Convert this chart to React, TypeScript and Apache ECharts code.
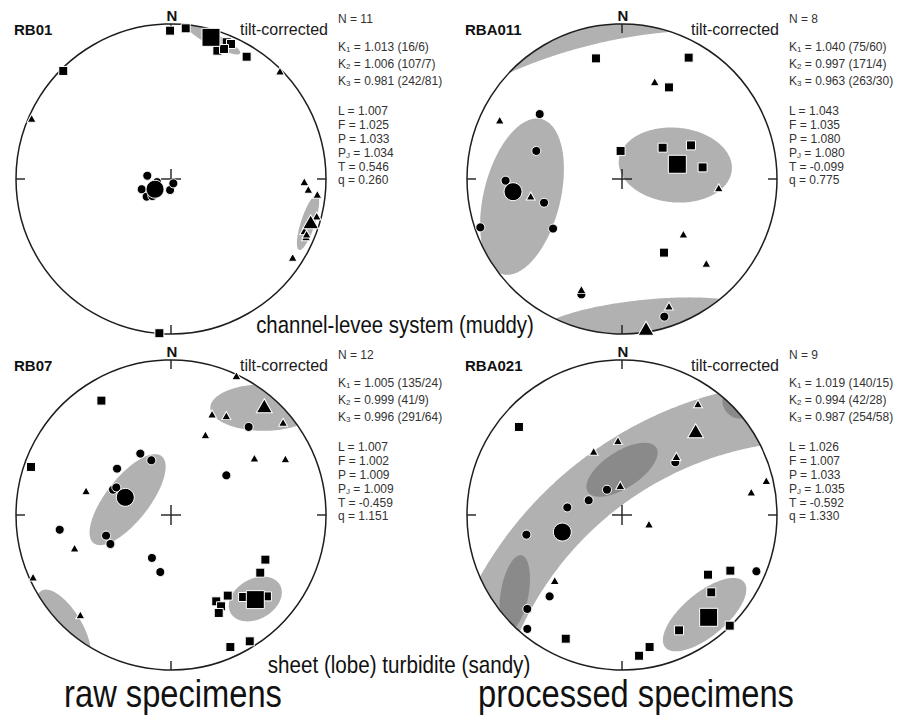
import React, { useEffect, useRef } from "react";
import * as echarts from "echarts";

// ---------- data (normalised stereonet coordinates, x = east, y = north, primitive radius = 1) ----------
const panelNames = ["RB01", "RBA011", "RB07", "RBA021"];

const rb01Squares = [[-0.006, 0.957], [0.095, 0.972], [0.359, 0.882], [0.387, 0.871], [0.299, 0.828], [0.342, 0.839], [0.488, 0.789], [-0.695, 0.697], [-0.075, -0.995]];
const rb01Triangles = [[0.703, 0.697], [-0.899, 0.392], [0.86, -0.017], [0.886, -0.066], [0.944, -0.099], [0.94, -0.239], [0.86, -0.333], [0.871, -0.372], [0.875, -0.355], [0.785, -0.505]];
const rb01Circles = [[-0.153, 0.021], [-0.189, -0.066], [-0.157, -0.114], [-0.006, -0.071], [0.015, -0.028], [-0.12, -0.11], [-0.09, -0.02]];
const rb01MeanK1 = [[0.258, 0.914]];
const rb01MeanK2 = [[0.901, -0.276]];
const rb01MeanK3 = [[-0.103, -0.066]];
const rb01Ellipses = [[0.277, 0.897, 0.19, 0.04, -27], [0.884, -0.281, 0.186, 0.045, 72]];
const rb01Bands: number[][] = [];

const rba011Squares = [[-0.168, 0.778], [0.43, 0.783], [0.303, 0.591], [-0.009, 0.181], [0.262, 0.202], [0.445, 0.217], [0.52, 0.075], [0.271, -0.475]];
const rba011Triangles = [[0.211, 0.628], [-0.789, 0.381], [-0.589, -0.11], [0.624, -0.056], [0.396, -0.355], [0.544, -0.544], [-0.262, -0.712], [0.303, -0.819]];
const rba011Circles = [[-0.531, 0.419], [-0.553, 0.181], [-0.751, -0.011], [-0.503, -0.153], [-0.914, -0.312], [-0.445, -0.32], [-0.262, -0.744], [0.273, -0.888]];
const rba011MeanK1 = [[0.357, 0.095]];
const rba011MeanK2 = [[0.155, -0.963]];
const rba011MeanK3 = [[-0.703, -0.082]];
const rba011Ellipses = [[-0.645, -0.114, 0.516, 0.247, 76], [0.344, 0.09, 0.366, 0.241, -5], [0.14, -0.92, 0.68, 0.14, 6]];
const rba011Bands = [[0.591, -2.329, 3.29, 4.6, 88, 122]];

const rb07Squares = [[-0.449, 0.738], [-0.903, 0.31], [0.609, -0.288], [0.576, -0.372], [0.366, -0.52], [0.292, -0.557], [0.323, -0.589], [0.308, -0.632], [0.465, -0.529], [0.619, -0.525], [0.508, -0.815], [0.383, -0.852]];
const rb07Triangles = [[0.422, 0.899], [0.265, 0.652], [0.357, 0.641], [0.723, 0.598], [0.222, 0.518], [0.538, 0.368], [0.738, 0.363], [-0.548, 0.157], [-0.622, -0.213], [-0.89, -0.4], [-0.585, -0.643]];
const rb07Circles = [[-0.198, 0.396], [-0.127, 0.353], [-0.348, 0.299], [-0.374, 0.163], [-0.353, 0.178], [-0.718, -0.095], [-0.419, -0.133], [-0.391, -0.187], [-0.123, -0.277], [-0.069, -0.368], [0.357, 0.256], [0.501, 0.568]];
const rb07MeanK1 = [[0.544, -0.546]];
const rb07MeanK2 = [[0.602, 0.705]];
const rb07MeanK3 = [[-0.295, 0.114]];
const rb07Ellipses = [[0.598, 0.693, 0.344, 0.15, 0], [-0.28, 0.099, 0.356, 0.14, 52], [-0.692, -0.729, 0.28, 0.118, -59], [0.544, -0.542, 0.183, 0.129, 30]];
const rb07Bands: number[][] = [];

const rba021Squares = [[-0.665, 0.568], [0.555, -0.385], [0.699, -0.359], [0.576, -0.499], [0.368, -0.744], [0.695, -0.714], [-0.363, -0.798], [0.178, -0.852], [0.11, -0.908]];
const rba021Triangles = [[0.49, 0.718], [-0.026, 0.48], [-0.183, 0.411], [0.351, 0.378], [-0.011, 0.191], [0.931, 0.222], [0.834, 0.148], [0.174, -0.058], [-0.434, -0.422]];
const rba021Circles = [[0.344, 0.34], [-0.097, 0.163], [-0.215, 0.095], [-0.353, 0.049], [-0.617, -0.127], [-0.467, -0.525], [-0.611, -0.606], [-0.611, -0.735], [0.867, -0.363]];
const rba021MeanK1 = [[0.559, -0.66]];
const rba021MeanK2 = [[0.475, 0.544]];
const rba021MeanK3 = [[-0.385, -0.11]];
const rba021Ellipses = [[0, 0.292, 0.263, 0.118, 33], [-0.692, -0.503, 0.247, 0.09, 80], [0.738, 0.713, 0.1, 0.08, -47], [0.533, -0.643, 0.33, 0.14, 39.7]];
const rba021Bands = [[1.252, -1.622, 2.1, 2.49, 90, 175]];

const nValues = ["11", "8", "12", "9"];
const k1Values = ["1.013 (16/6)", "1.040 (75/60)", "1.005 (135/24)", "1.019 (140/15)"];
const k2Values = ["1.006 (107/7)", "0.997 (171/4)", "0.999 (41/9)", "0.994 (42/28)"];
const k3Values = ["0.981 (242/81)", "0.963 (263/30)", "0.996 (291/64)", "0.987 (254/58)"];
const lValues = ["1.007", "1.043", "1.007", "1.026"];
const fValues = ["1.025", "1.035", "1.002", "1.007"];
const pValues = ["1.033", "1.080", "1.009", "1.033"];
const pjValues = ["1.034", "1.080", "1.009", "1.035"];
const tValues = ["0.546", "-0.099", "-0.459", "-0.592"];
const qValues = ["0.260", "0.775", "1.151", "1.330"];

const rowLabels = ["channel-levee system (muddy)", "sheet (lobe) turbidite (sandy)"];
const columnLabels = ["raw specimens", "processed specimens"];

// ---------- layout ----------
const R = 155;
const centers = [[171, 179], [622, 179], [171, 515], [622, 515]];
const SANS = "'Liberation Sans', Arial, Helvetica, sans-serif";
const REGION_FILL = "rgba(100,100,100,0.5)";

const panels = [
  { sq: rb01Squares, tr: rb01Triangles, ci: rb01Circles, m1: rb01MeanK1, m2: rb01MeanK2, m3: rb01MeanK3, el: rb01Ellipses, bd: rb01Bands },
  { sq: rba011Squares, tr: rba011Triangles, ci: rba011Circles, m1: rba011MeanK1, m2: rba011MeanK2, m3: rba011MeanK3, el: rba011Ellipses, bd: rba011Bands },
  { sq: rb07Squares, tr: rb07Triangles, ci: rb07Circles, m1: rb07MeanK1, m2: rb07MeanK2, m3: rb07MeanK3, el: rb07Ellipses, bd: rb07Bands },
  { sq: rba021Squares, tr: rba021Triangles, ci: rba021Circles, m1: rba021MeanK1, m2: rba021MeanK2, m3: rba021MeanK3, el: rba021Ellipses, bd: rba021Bands },
];

// ---------- geometry helpers ----------
function ellipsePts(cx: number, cy: number, a: number, b: number, deg: number) {
  const r = (deg * Math.PI) / 180;
  const ux = Math.cos(r), uy = Math.sin(r);
  const pts: number[][] = [];
  const N = 240;
  for (let i = 0; i < N; i++) {
    const t = (i / N) * 2 * Math.PI;
    const ca = a * Math.cos(t), sb = b * Math.sin(t);
    pts.push([cx + ca * ux - sb * uy, cy + ca * uy + sb * ux]);
  }
  return pts;
}

function bandPts(cx: number, cy: number, r0: number, r1: number, d0: number, d1: number) {
  const pts: number[][] = [];
  const N = 300;
  for (let i = 0; i <= N; i++) {
    const a = ((d0 + ((d1 - d0) * i) / N) * Math.PI) / 180;
    pts.push([cx + r1 * Math.cos(a), cy + r1 * Math.sin(a)]);
  }
  for (let i = N; i >= 0; i--) {
    const a = ((d0 + ((d1 - d0) * i) / N) * Math.PI) / 180;
    pts.push([cx + r0 * Math.cos(a), cy + r0 * Math.sin(a)]);
  }
  return pts;
}

function clipToDisk(pts: number[][]) {
  const n = pts.length;
  const inside = (p: number[]) => p[0] * p[0] + p[1] * p[1] <= 1;
  let start = -1;
  for (let i = 0; i < n; i++) if (inside(pts[i])) { start = i; break; }
  if (start < 0) return [];
  const out: number[][] = [];
  let exitAng = 0;
  for (let k = 0; k < n; k++) {
    const p = pts[(start + k) % n];
    const q = pts[(start + k + 1) % n];
    const pi = inside(p), qi = inside(q);
    if (pi) out.push(p);
    if (pi !== qi) {
      const dx = q[0] - p[0], dy = q[1] - p[1];
      const A = dx * dx + dy * dy, B = 2 * (p[0] * dx + p[1] * dy), C = p[0] * p[0] + p[1] * p[1] - 1;
      const disc = Math.sqrt(Math.max(0, B * B - 4 * A * C));
      let t = pi ? (-B + disc) / (2 * A) : (-B - disc) / (2 * A);
      t = Math.min(1, Math.max(0, t));
      const x = p[0] + t * dx, y = p[1] + t * dy;
      const ang = Math.atan2(y, x);
      if (pi) {
        out.push([x, y]);
        exitAng = ang;
      } else {
        let a1 = ang;
        while (a1 < exitAng) a1 += 2 * Math.PI;
        const steps = Math.max(2, Math.ceil((a1 - exitAng) / 0.02));
        for (let s = 1; s < steps; s++) {
          const a = exitAng + ((a1 - exitAng) * s) / steps;
          out.push([Math.cos(a), Math.sin(a)]);
        }
        out.push([x, y]);
      }
    }
  }
  return out;
}

function buildOption() {
  const grid: any[] = [];
  const xAxis: any[] = [];
  const yAxis: any[] = [];
  const series: any[] = [];
  const graphic: any[] = [];

  panels.forEach((pn, i) => {
    const [cx, cy] = centers[i];
    grid.push({ left: cx - R, top: cy - R, width: 2 * R, height: 2 * R, containLabel: false });
    xAxis.push({ type: "value", gridIndex: i, min: -1, max: 1, show: false });
    yAxis.push({ type: "value", gridIndex: i, min: -1, max: 1, show: false });
    const ax = { xAxisIndex: i, yAxisIndex: i };

    const regionItem = (pts: number[][], api: any) => {
      const clipped = clipToDisk(pts);
      if (!clipped.length) return null;
      return {
        type: "polygon",
        shape: { points: clipped.map((p) => api.coord(p)) },
        style: { fill: REGION_FILL },
      };
    };

    series.push({
      type: "custom", ...ax, silent: true, clip: false,
      data: pn.el,
      renderItem: (_p: any, api: any) =>
        regionItem(ellipsePts(api.value(0), api.value(1), api.value(2), api.value(3), api.value(4)), api),
    });
    if (pn.bd.length) {
      series.push({
        type: "custom", ...ax, silent: true, clip: false,
        data: pn.bd,
        renderItem: (_p: any, api: any) =>
          regionItem(bandPts(api.value(0), api.value(1), api.value(2), api.value(3), api.value(4), api.value(5)), api),
      });
    }

    // primitive circle, cardinal ticks and centre cross
    series.push({
      type: "custom", ...ax, silent: true, clip: false,
      data: [[0, 0]],
      renderItem: (_p: any, api: any) => {
        const c = api.coord([0, 0]);
        const e = api.coord([1, 0]);
        const r = e[0] - c[0];
        const st = { stroke: "#1e1e1e", lineWidth: 1.4 };
        const tk = 9, cr = 10;
        const ln = (x1: number, y1: number, x2: number, y2: number) => ({ type: "line", shape: { x1, y1, x2, y2 }, style: st });
        return {
          type: "group",
          children: [
            { type: "circle", shape: { cx: c[0], cy: c[1], r }, style: { fill: "none", stroke: "#1e1e1e", lineWidth: 1.5 } },
            ln(c[0], c[1] - r, c[0], c[1] - r + tk),
            ln(c[0], c[1] + r, c[0], c[1] + r - tk),
            ln(c[0] - r, c[1], c[0] - r + tk, c[1]),
            ln(c[0] + r, c[1], c[0] + r - tk, c[1]),
            ln(c[0] - cr, c[1], c[0] + cr, c[1]),
            ln(c[0], c[1] - cr, c[0], c[1] + cr),
          ],
        };
      },
    });

    const mk = (data: number[][], symbol: string, size: any) => ({
      type: "scatter", ...ax, data, symbol, symbolSize: size, silent: true,
      itemStyle: { color: "#000", borderColor: "#fff", borderWidth: 1, opacity: 1 },
    });
    series.push(mk(pn.ci, "circle", 9));
    series.push(mk(pn.sq, "rect", 9));
    series.push(mk(pn.tr, "triangle", [9, 8]));
    series.push(mk(pn.m3, "circle", 18));
    series.push(mk(pn.m1, "rect", 18));
    series.push(mk(pn.m2, "triangle", [16, 14]));

    // annotations
    const txt = (x: number, y: number, text: string, o: any) => ({
      type: "text", x, y, silent: true,
      style: { text, fill: "#111", fontFamily: SANS, fontSize: 12, align: "left", verticalAlign: "middle", textAlign: "left", textVerticalAlign: "middle", ...o },
    });
    graphic.push(txt(cx - 157, cy - 150, panelNames[i], { fontWeight: "bold", fontSize: 15 }));
    graphic.push(txt(cx + 1, cy - 164, "N", { fontWeight: "bold", fontSize: 15, align: "center", textAlign: "center" }));
    graphic.push(txt(cx + 157, cy - 150, "tilt-corrected", { fontSize: 16, align: "right", textAlign: "right", fill: "#1a1a1a" }));

    const sx = cx + 167;
    const statFill = "#333";
    const rich = {
      m: { fontSize: 12, fontFamily: SANS, fill: statFill, lineHeight: 12 },
      s: { fontSize: 8, fontFamily: SANS, fill: statFill, lineHeight: 7, verticalAlign: "bottom" },
    };
    const st = (y: number, text: string) => txt(sx, y, text, { fill: statFill, rich });
    graphic.push(st(cy - 160, `{m|N = ${nValues[i]}}`));
    graphic.push(st(cy - 132, `{m|K}{s|1}{m| = ${k1Values[i]}}`));
    graphic.push(st(cy - 115, `{m|K}{s|2}{m| = ${k2Values[i]}}`));
    graphic.push(st(cy - 98, `{m|K}{s|3}{m| = ${k3Values[i]}}`));
    graphic.push(st(cy - 68, `{m|L = ${lValues[i]}}`));
    graphic.push(st(cy - 54, `{m|F = ${fValues[i]}}`));
    graphic.push(st(cy - 40, `{m|P = ${pValues[i]}}`));
    graphic.push(st(cy - 26, `{m|P}{s|J}{m| = ${pjValues[i]}}`));
    graphic.push(st(cy - 12.5, `{m|T = ${tValues[i]}}`));
    graphic.push(st(cy + 1, `{m|q = ${qValues[i]}}`));
  });

  // condensed captions (horizontally compressed sans to imitate a narrow face)
  const big = (x: number, y: number, text: string, size: number, sxs: number) => ({
    type: "text", x, y, scaleX: sxs, silent: true,
    style: { text, x: 0, y: 0, fill: "#111", fontFamily: SANS, fontSize: size, align: "center", verticalAlign: "middle", textAlign: "center", textVerticalAlign: "middle" },
  });
  graphic.push(big(395, 325, rowLabels[0], 24, 0.85));
  graphic.push(big(399, 665, rowLabels[1], 24, 0.86));
  graphic.push(big(173, 694, columnLabels[0], 38, 0.86));
  graphic.push(big(636, 694, columnLabels[1], 38, 0.86));

  return {
    animation: false,
    backgroundColor: "#fff",
    grid, xAxis, yAxis, series, graphic,
  };
}

export default function App() {
  const ref = useRef<HTMLDivElement>(null);
  useEffect(() => {
    if (!ref.current) return;
    const chart = echarts.init(ref.current, undefined, { renderer: "svg" });
    chart.setOption(buildOption() as any);
    return () => chart.dispose();
  }, []);
  return <div ref={ref} style={{ position: "fixed", left: 0, top: 0, width: 898, height: 721, background: "#fff" }} />;
}
